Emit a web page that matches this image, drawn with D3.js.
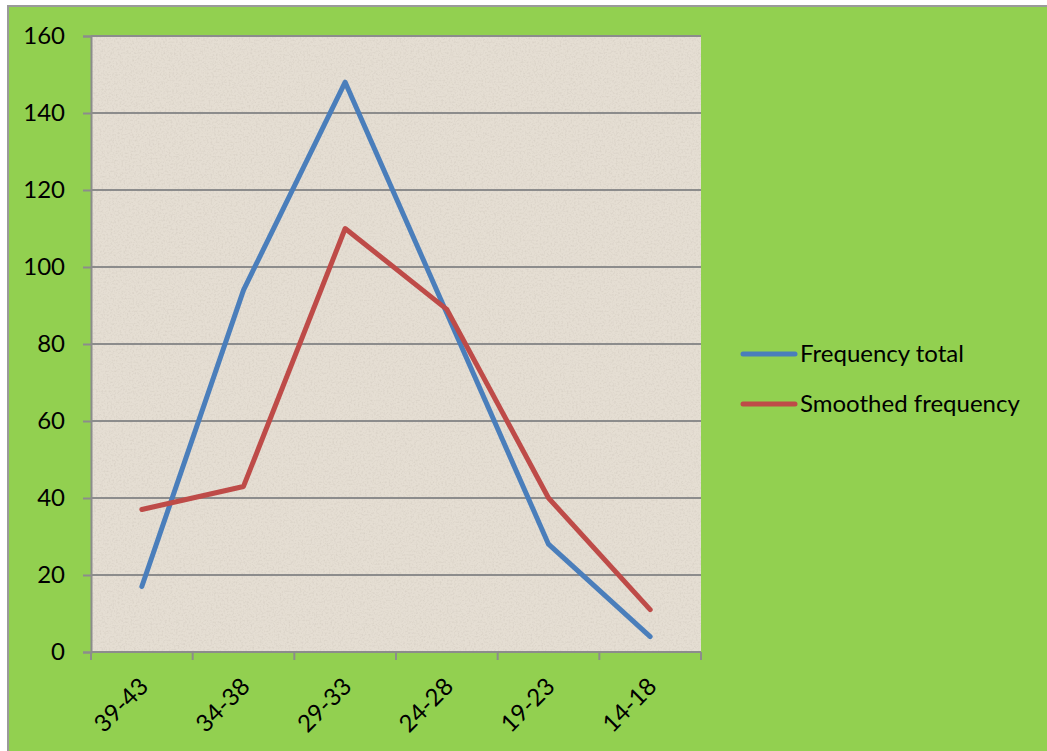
<!DOCTYPE html>
<html>
<head>
<meta charset="utf-8">
<script src="https://cdn.jsdelivr.net/npm/d3@7"></script>
<style>
  html, body { margin: 0; padding: 0; background: #ffffff; }
  svg { display: block; }
  text { font-family: Lato, "Open Sans", sans-serif; fill: #000; }
</style>
</head>
<body>
<svg id="chart" width="1047" height="751"></svg>
<script>
// Age groups, oldest first
const categories = ["39-43", "34-38", "29-33", "24-28", "19-23", "14-18"];
const frequencyTotal = [17, 94, 148, 88, 28, 4];
const smoothedFrequency = [37, 43, 110, 89, 40, 11];
const yTicks = [0, 20, 40, 60, 80, 100, 120, 140, 160];
const seriesNames = ["Frequency total", "Smoothed frequency"];
const seriesColors = ["#4A7EBB", "#BE4B48"];

const svg = d3.select("#chart");
const W = 1047, H = 751;

// Chart area background and frame
svg.append("rect").attr("x", 8).attr("y", 6).attr("width", W).attr("height", H)
  .attr("fill", "#92D050").attr("stroke", "#9a9a9a").attr("stroke-width", 2);

const plot = { left: 91, top: 36, right: 701, bottom: 652 };

// Paper-like texture for the plot area
const defs = svg.append("defs");
const f = defs.append("filter").attr("id", "grain").attr("x", 0).attr("y", 0)
  .attr("width", "100%").attr("height", "100%");
f.append("feTurbulence").attr("type", "fractalNoise").attr("baseFrequency", 0.55)
  .attr("numOctaves", 2).attr("seed", 7).attr("result", "noise");
f.append("feColorMatrix").attr("in", "noise").attr("type", "matrix")
  .attr("values", "0 0 0 0 0.55  0 0 0 0 0.5  0 0 0 0 0.44  0 0 0 -1.6 0.9")
  .attr("result", "speck");
f.append("feComposite").attr("in", "speck").attr("in2", "SourceGraphic").attr("operator", "in");

svg.append("rect").attr("x", plot.left).attr("y", plot.top)
  .attr("width", plot.right - plot.left).attr("height", plot.bottom - plot.top)
  .attr("fill", "#E5DED3");
svg.append("rect").attr("x", plot.left).attr("y", plot.top)
  .attr("width", plot.right - plot.left).attr("height", plot.bottom - plot.top)
  .attr("fill", "#E5DED3").attr("filter", "url(#grain)").attr("opacity", 0.5);

const x = d3.scaleBand().domain(categories).range([plot.left, plot.right]);
const y = d3.scaleLinear().domain([0, 160]).range([plot.bottom, plot.top]);

// Horizontal gridlines
svg.append("g").selectAll("line").data(yTicks.filter(d => d > 0)).join("line")
  .attr("x1", plot.left).attr("x2", plot.right)
  .attr("y1", d => y(d)).attr("y2", d => y(d))
  .attr("stroke", "#8c8c8c").attr("stroke-width", 2);

// Y axis
const yAxis = svg.append("g").attr("transform", `translate(${plot.left},0)`)
  .call(d3.axisLeft(y).tickValues(yTicks).tickSize(8).tickPadding(18));
yAxis.select(".domain").attr("stroke", "#8c8c8c").attr("stroke-width", 2);
yAxis.selectAll(".tick line").attr("stroke", "#8c8c8c").attr("stroke-width", 2);
yAxis.selectAll(".tick text").style("font-size", "24px").style("font-family", "Lato, sans-serif")
  .attr("fill", "#000");

// X axis with ticks on band boundaries
const xAxisG = svg.append("g").attr("transform", `translate(0,${plot.bottom})`);
xAxisG.append("line").attr("x1", plot.left).attr("x2", plot.right)
  .attr("stroke", "#8c8c8c").attr("stroke-width", 2);
const bounds = categories.map(c => x(c)).concat([x(categories[categories.length - 1]) + x.bandwidth()]);
xAxisG.selectAll("line.tk").data(bounds).join("line").attr("class", "tk")
  .attr("x1", d => d).attr("x2", d => d).attr("y1", 0).attr("y2", 8)
  .attr("stroke", "#8c8c8c").attr("stroke-width", 2);
xAxisG.selectAll("text").data(categories).join("text")
  .attr("transform", d => `translate(${x(d) + x.bandwidth() / 2 + 2},${30}) rotate(-45)`)
  .attr("text-anchor", "end").attr("dy", "0.35em")
  .style("font-size", "24px").text(d => d);

// Series lines
const line = d3.line()
  .x((d, i) => x(categories[i]) + x.bandwidth() / 2)
  .y(d => y(d));
[frequencyTotal, smoothedFrequency].forEach((s, i) => {
  svg.append("path").datum(s).attr("d", line)
    .attr("fill", "none").attr("stroke", seriesColors[i]).attr("stroke-width", 5)
    .attr("stroke-linejoin", "round").attr("stroke-linecap", "round");
});

// Legend
const legend = svg.append("g");
seriesNames.forEach((name, i) => {
  const ly = 354 + i * 50;
  legend.append("line").attr("x1", 743).attr("x2", 795).attr("y1", ly).attr("y2", ly)
    .attr("stroke", seriesColors[i]).attr("stroke-width", 5).attr("stroke-linecap", "round");
  legend.append("text").attr("x", 800).attr("y", ly).attr("dy", "0.35em")
    .style("font-size", "24px").text(name);
});
</script>
</body>
</html>
